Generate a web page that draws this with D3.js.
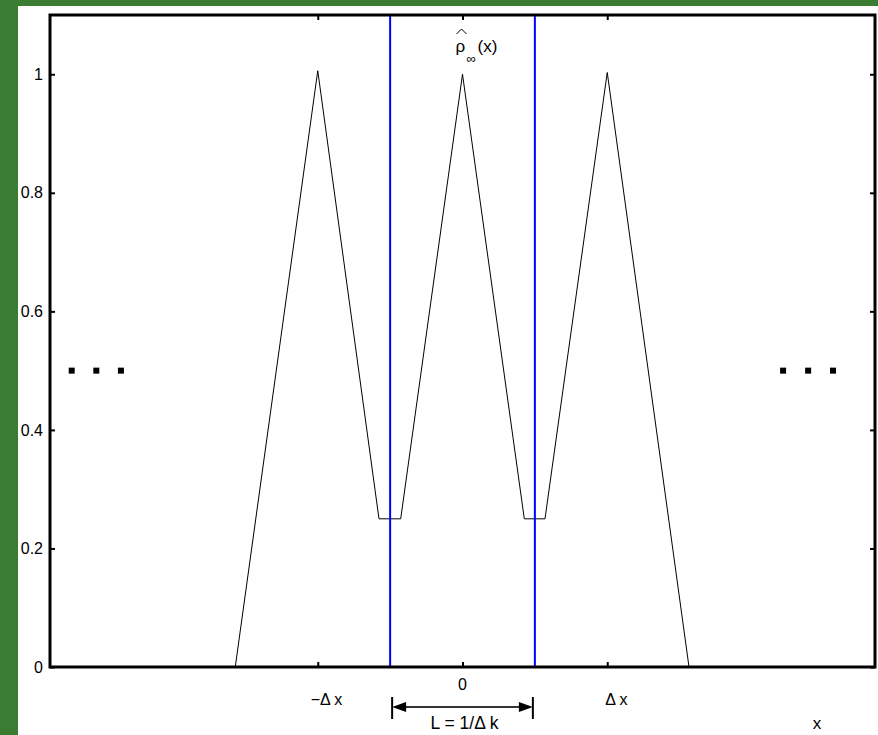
<!DOCTYPE html>
<html>
<head>
<meta charset="utf-8">
<script src="https://cdn.jsdelivr.net/npm/d3@7"></script>
<style>
	body { margin: 0; background: #3a7d32; }
	svg text { font-family: "Liberation Sans", Arial, sans-serif; fill: #000; }
</style>
</head>
<body>
<svg id="chart" width="878" height="735"></svg>
<script>
// profile of rho_inf(x), x in units of delta x
const profile_x = [-1.57, -1, -0.577, -0.427, 0, 0.427, 0.57, 1, 1.565];
const profile_y = [0, 1.006, 0.25, 0.25, 1, 0.25, 0.25, 1.003, 0];

const cell_edges = [-0.5, 0.5];
const x_ticks = [-1, 0, 1];
const x_tick_labels = ["\u2212\u0394 x", "0", "\u0394 x"];
const y_ticks = [0, 0.2, 0.4, 0.6, 0.8, 1];
const y_tick_labels = ["0", "0.2", "0.4", "0.6", "0.8", "1"];

const dots_left = [-2.70, -2.53, -2.36];
const dots_right = [2.215, 2.388, 2.56];
const dots_y = 0.5;

const plot_left = 50, plot_right = 875, plot_top = 15, plot_bottom = 667;

const svg = d3.select("#chart");

svg.append("rect")
	.attr("x", 18)
	.attr("y", 6)
	.attr("width", 878 - 18)
	.attr("height", 735 - 6)
	.style("fill", "#fff");

const x = d3.scaleLinear().domain([-2.85, 2.85]).range([plot_left, plot_right]);
const y = d3.scaleLinear().domain([0, 1.1]).range([plot_bottom, plot_top]);

// profile line
const line = d3.line()
	.x(d => x(d[0]))
	.y(d => y(d[1]));

svg.append("path")
	.datum(profile_x.map((v, i) => [v, profile_y[i]]))
	.attr("d", line)
	.style("fill", "none")
	.style("stroke", "#000")
	.style("stroke-width", 1);

// cell boundaries
svg.selectAll(".edge")
	.data(cell_edges)
	.join("line")
	.attr("x1", d => x(d))
	.attr("x2", d => x(d))
	.attr("y1", plot_top)
	.attr("y2", plot_bottom)
	.style("stroke", "#0000ff")
	.style("stroke-width", 2);

// ellipsis dots
svg.selectAll(".dot")
	.data(dots_left.concat(dots_right))
	.join("rect")
	.attr("x", d => x(d) - 3)
	.attr("y", y(dots_y) - 3)
	.attr("width", 6)
	.attr("height", 6)
	.style("fill", "#000");

// axes, ticks inward on all sides
svg.append("g")
	.attr("transform", "translate(0," + plot_bottom + ")")
	.call(d3.axisBottom(x).tickValues(x_ticks).tickSizeInner(-5).tickSizeOuter(0).tickFormat(""));
svg.append("g")
	.attr("transform", "translate(0," + plot_top + ")")
	.call(d3.axisTop(x).tickValues(x_ticks).tickSizeInner(-5).tickSizeOuter(0).tickFormat(""));
svg.append("g")
	.attr("transform", "translate(" + plot_left + ",0)")
	.call(d3.axisLeft(y).tickValues(y_ticks).tickSizeInner(-5).tickSizeOuter(0).tickPadding(7)
		.tickFormat((d, i) => y_tick_labels[i]));
svg.append("g")
	.attr("transform", "translate(" + plot_right + ",0)")
	.call(d3.axisRight(y).tickValues(y_ticks).tickSizeInner(-5).tickSizeOuter(0).tickFormat(""));

svg.selectAll(".domain").remove();
svg.selectAll(".tick line").style("stroke", "#000").style("stroke-width", 2);
svg.selectAll(".tick text").style("font-size", "16px").style("font-family", "Liberation Sans, Arial, sans-serif");

// x tick labels: 0 sits higher than the delta labels
const label_offset = [-7, 0, -2];
x_ticks.forEach((t, i) => {
	svg.append("text")
		.attr("x", x(t) + label_offset[i])
		.attr("y", i == 1 ? 690 : 705)
		.attr("text-anchor", i == 1 ? "middle" : "start")
		.style("font-size", "16px")
		.text(x_tick_labels[i]);
});

svg.append("text")
	.attr("x", 817)
	.attr("y", 729)
	.attr("text-anchor", "middle")
	.style("font-size", "17px")
	.text("x");

// frame
svg.append("rect")
	.attr("x", plot_left)
	.attr("y", plot_top)
	.attr("width", plot_right - plot_left)
	.attr("height", plot_bottom - plot_top)
	.style("fill", "none")
	.style("stroke", "#000")
	.style("stroke-width", 3);

// rho hat label
const rx = x(0) - 7;
svg.append("text")
	.attr("x", rx)
	.attr("y", 52)
	.style("font-size", "17px")
	.text("\u03c1");
svg.append("path")
	.attr("d", "M" + (rx + 1) + ",34 L" + (rx + 6) + ",29 L" + (rx + 11) + ",34")
	.style("fill", "none")
	.style("stroke", "#000")
	.style("stroke-width", 1);
svg.append("text")
	.attr("x", rx + 11)
	.attr("y", 63)
	.style("font-size", "13px")
	.text("\u221e");
svg.append("text")
	.attr("x", rx + 22)
	.attr("y", 52)
	.style("font-size", "17px")
	.text("(x)");

// L = 1/delta k arrow
const ay = 707;
const ax1 = x(cell_edges[0]) + 2, ax2 = x(cell_edges[1]) - 2;
svg.append("line")
	.attr("x1", ax1 + 10).attr("x2", ax2 - 10)
	.attr("y1", ay).attr("y2", ay)
	.style("stroke", "#333")
	.style("stroke-width", 2);
svg.append("path")
	.attr("d", "M" + ax1 + "," + ay + " l14,-5 l0,10 z")
	.style("fill", "#000");
svg.append("path")
	.attr("d", "M" + ax2 + "," + ay + " l-14,-5 l0,10 z")
	.style("fill", "#000");
[ax1, ax2].forEach(v => {
	svg.append("line")
		.attr("x1", v).attr("x2", v)
		.attr("y1", 697).attr("y2", 719)
		.style("stroke", "#000")
		.style("stroke-width", 2);
});
svg.append("text")
	.attr("x", x(0) + 2)
	.attr("y", 729)
	.attr("text-anchor", "middle")
	.style("font-size", "17.5px")
	.text("L = 1/\u0394 k");
</script>
</body>
</html>
